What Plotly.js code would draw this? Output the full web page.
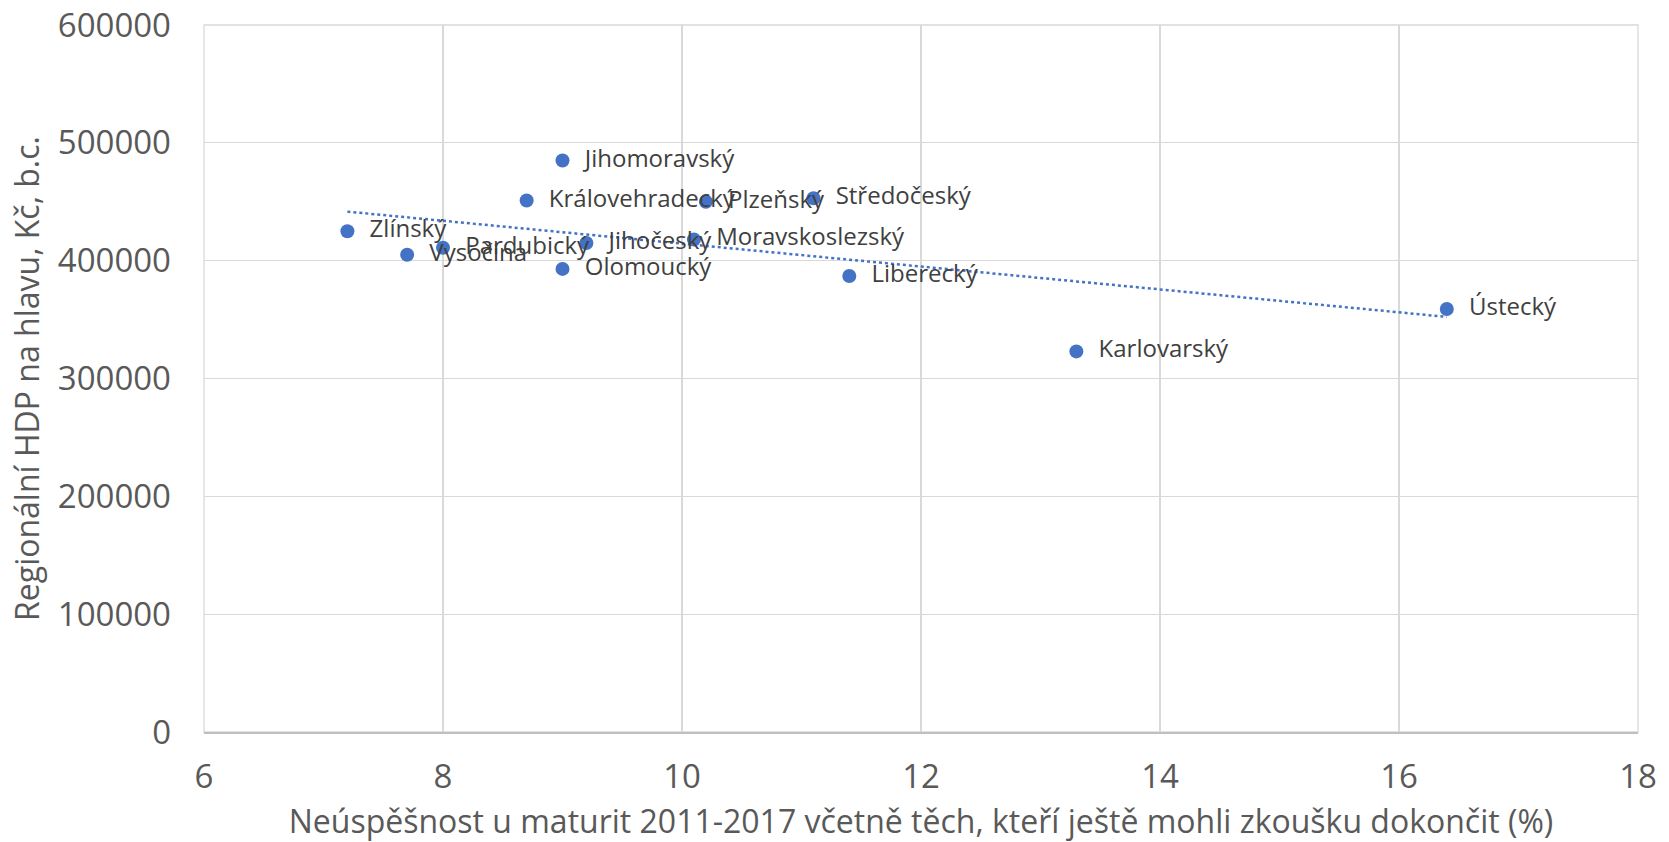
<!DOCTYPE html>
<html>
<head>
<meta charset="utf-8">
<script src="https://cdn.plot.ly/plotly-3.0.1.min.js"></script>
<style>html,body{margin:0;padding:0;background:#fff}#chart{width:1669px;height:842px}</style>
</head>
<body>
<div id="chart"></div>
<script>
const regions = ["Jihomoravský","Královehradecký","Plzeňský","Středočeský","Zlínský","Pardubický","Vysočina","Jihočeský","Moravskoslezský","Olomoucký","Liberecký","Karlovarský","Ústecký"];
const failRate = [9.0, 8.7, 10.2, 11.1, 7.2, 8.0, 7.7, 9.2, 10.1, 9.0, 11.4, 13.3, 16.4];
const gdpPerCapita = [485000, 451000, 450000, 453000, 425000, 411000, 405000, 415000, 418000, 393000, 387000, 323000, 359000];
const xTicks = [6, 8, 10, 12, 14, 16, 18];
const yTicks = [0, 100000, 200000, 300000, 400000, 500000, 600000];

// linear trendline (least squares) computed from the data
const n = failRate.length;
const mx = failRate.reduce((a,b)=>a+b,0)/n;
const my = gdpPerCapita.reduce((a,b)=>a+b,0)/n;
let sxy=0, sxx=0;
for (let i=0;i<n;i++){ sxy += (failRate[i]-mx)*(gdpPerCapita[i]-my); sxx += (failRate[i]-mx)**2; }
const slope = sxy/sxx, icpt = my - slope*mx;
const xMin = Math.min(...failRate), xMax = Math.max(...failRate);
const trendX = [xMin, xMax];
const trendY = trendX.map(x => icpt + slope*x);

const FONT = "Open Sans, sans-serif";
const data = [
  {
    x: trendX, y: trendY, mode: 'lines', type: 'scatter',
    line: {color: '#4472C4', width: 2.5, dash: 'dot'},
    hoverinfo: 'skip', showlegend: false
  },
  {
    x: failRate, y: gdpPerCapita, mode: 'markers+text', type: 'scatter',
    text: regions.map(r => '  ' + r), textposition: 'middle right',
    textfont: {family: FONT, size: 24, color: '#404040'},
    marker: {color: '#4472C4', size: 14},
    cliponaxis: false, showlegend: false
  }
];
const layout = {
  width: 1669, height: 842,
  margin: {l: 204, r: 31, t: 25, b: 110},
  paper_bgcolor: '#fff', plot_bgcolor: '#fff',
  font: {family: FONT, color: '#595959'},
  showlegend: false,
  xaxis: {
    range: [6, 18], tickvals: xTicks, ticktext: xTicks.map(String),
    showgrid: true, gridcolor: '#d9d9d9', gridwidth: 1.3,
    zeroline: false, showline: true, linecolor: '#bfbfbf', linewidth: 2,
    ticks: '', ticklabelstandoff: 14,
    tickfont: {family: FONT, size: 33, color: '#595959'},
    title: {text: 'Neúspěšnost u maturit 2011-2017 včetně těch, kteří ještě mohli zkoušku dokončit (%)', font: {family: FONT, size: 32, color: '#595959'}, standoff: 14}
  },
  yaxis: {
    range: [0, 600000], tickvals: yTicks, ticktext: yTicks.map(String),
    showgrid: true, gridcolor: '#d9d9d9', gridwidth: 1.3,
    zeroline: false, showline: false,
    ticks: '', ticklabelstandoff: 32,
    tickfont: {family: FONT, size: 33, color: '#595959'},
    title: {text: 'Regionální HDP na hlavu, Kč, b.c.', font: {family: FONT, size: 32, color: '#595959'}, standoff: 8}
  },
  shapes: [
    {type: 'rect', xref: 'paper', yref: 'paper', x0: 0, x1: 1, y0: 0, y1: 1, line: {color: '#d9d9d9', width: 1.3}, layer: 'below'}
  ]
};
Plotly.newPlot('chart', data, layout, {displayModeBar: false, staticPlot: true});
</script>
</body>
</html>
